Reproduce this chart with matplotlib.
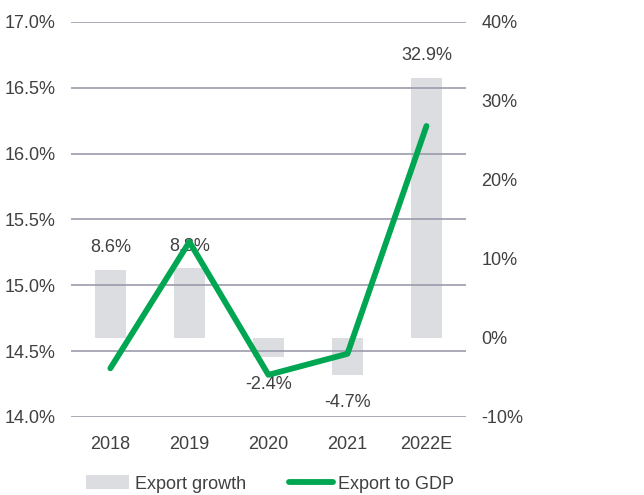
"""
Export growth (bars, right axis) and export to GDP (line, left axis)
"""
import matplotlib
matplotlib.use("Agg")
import matplotlib.pyplot as plt
from matplotlib.patches import Patch
from matplotlib.lines import Line2D

years = ["2018", "2019", "2020", "2021", "2022E"]
export_growth = [8.6, 8.8, -2.4, -4.7, 32.9]
export_to_gdp = [14.37, 15.33, 14.32, 14.48, 16.21]
growth_labels = ["8.6%", "8.8%", "-2.4%", "-4.7%", "32.9%"]

left_ticks = [14.0, 14.5, 15.0, 15.5, 16.0, 16.5, 17.0]
right_ticks = [-10, 0, 10, 20, 30, 40]

TEXT = "#404040"
GRID = "#9b9bab"
BAR = "#dcdde1"
GREEN = "#00a651"

plt.rcParams["font.family"] = ["Liberation Sans", "DejaVu Sans"]
plt.rcParams["font.size"] = 13

fig = plt.figure(figsize=(6.44, 4.95), dpi=100)
ax = fig.add_axes([0.110, 0.1576, 0.6136, 0.798])
ax2 = ax.twinx()

x = list(range(len(years)))

# bars on the right axis, which is put behind the left one
ax2.bar(x, export_growth, width=0.39, color=BAR, zorder=1)
for i, v in enumerate(export_growth):
    if v >= 0:
        ax2.annotate(growth_labels[i], (i, v), xytext=(0, 16),
                     textcoords="offset points", ha="center", va="center",
                     color=TEXT, fontsize=13)
    else:
        ax2.annotate(growth_labels[i], (i, v), xytext=(0, -20),
                     textcoords="offset points", ha="center", va="center",
                     color=TEXT, fontsize=13)

ax2.set_ylim(-10, 40)
ax2.set_yticks(right_ticks)
ax2.set_yticklabels([f"{t}%" for t in right_ticks])

ax.set_zorder(ax2.get_zorder() + 1)
ax.patch.set_visible(False)

ax.set_ylim(14.0, 17.0)
ax.set_yticks(left_ticks)
ax.set_yticklabels([f"{t:.1f}%" for t in left_ticks])
ax.set_xlim(-0.5, 4.5)
ax.set_xticks(x)
ax.set_xticklabels(years)

for t in left_ticks:
    ax.axhline(t, color=GRID, lw=1.2, zorder=0)

ax.plot(x, export_to_gdp, color=GREEN, lw=4.2, solid_capstyle="round",
        zorder=3)

for a in (ax, ax2):
    for s in a.spines.values():
        s.set_visible(False)
    a.tick_params(length=0, colors=TEXT, labelsize=13)

ax.tick_params(axis="y", pad=11)
ax.tick_params(axis="x", pad=14)
ax2.tick_params(axis="y", pad=11)

handles = [Patch(facecolor=BAR, edgecolor="none"),
           Line2D([0], [0], color=GREEN, lw=4.2, solid_capstyle="round")]
leg = fig.legend(handles, ["Export growth", "Export to GDP"], ncol=2,
                 loc="center", bbox_to_anchor=(270 / 644, 1 - 484 / 495),
                 frameon=False, handlelength=2.4, handleheight=0.8,
                 columnspacing=2.4, handletextpad=0.3, fontsize=13)
for t in leg.get_texts():
    t.set_color(TEXT)

fig.savefig("out.png", dpi=100)
